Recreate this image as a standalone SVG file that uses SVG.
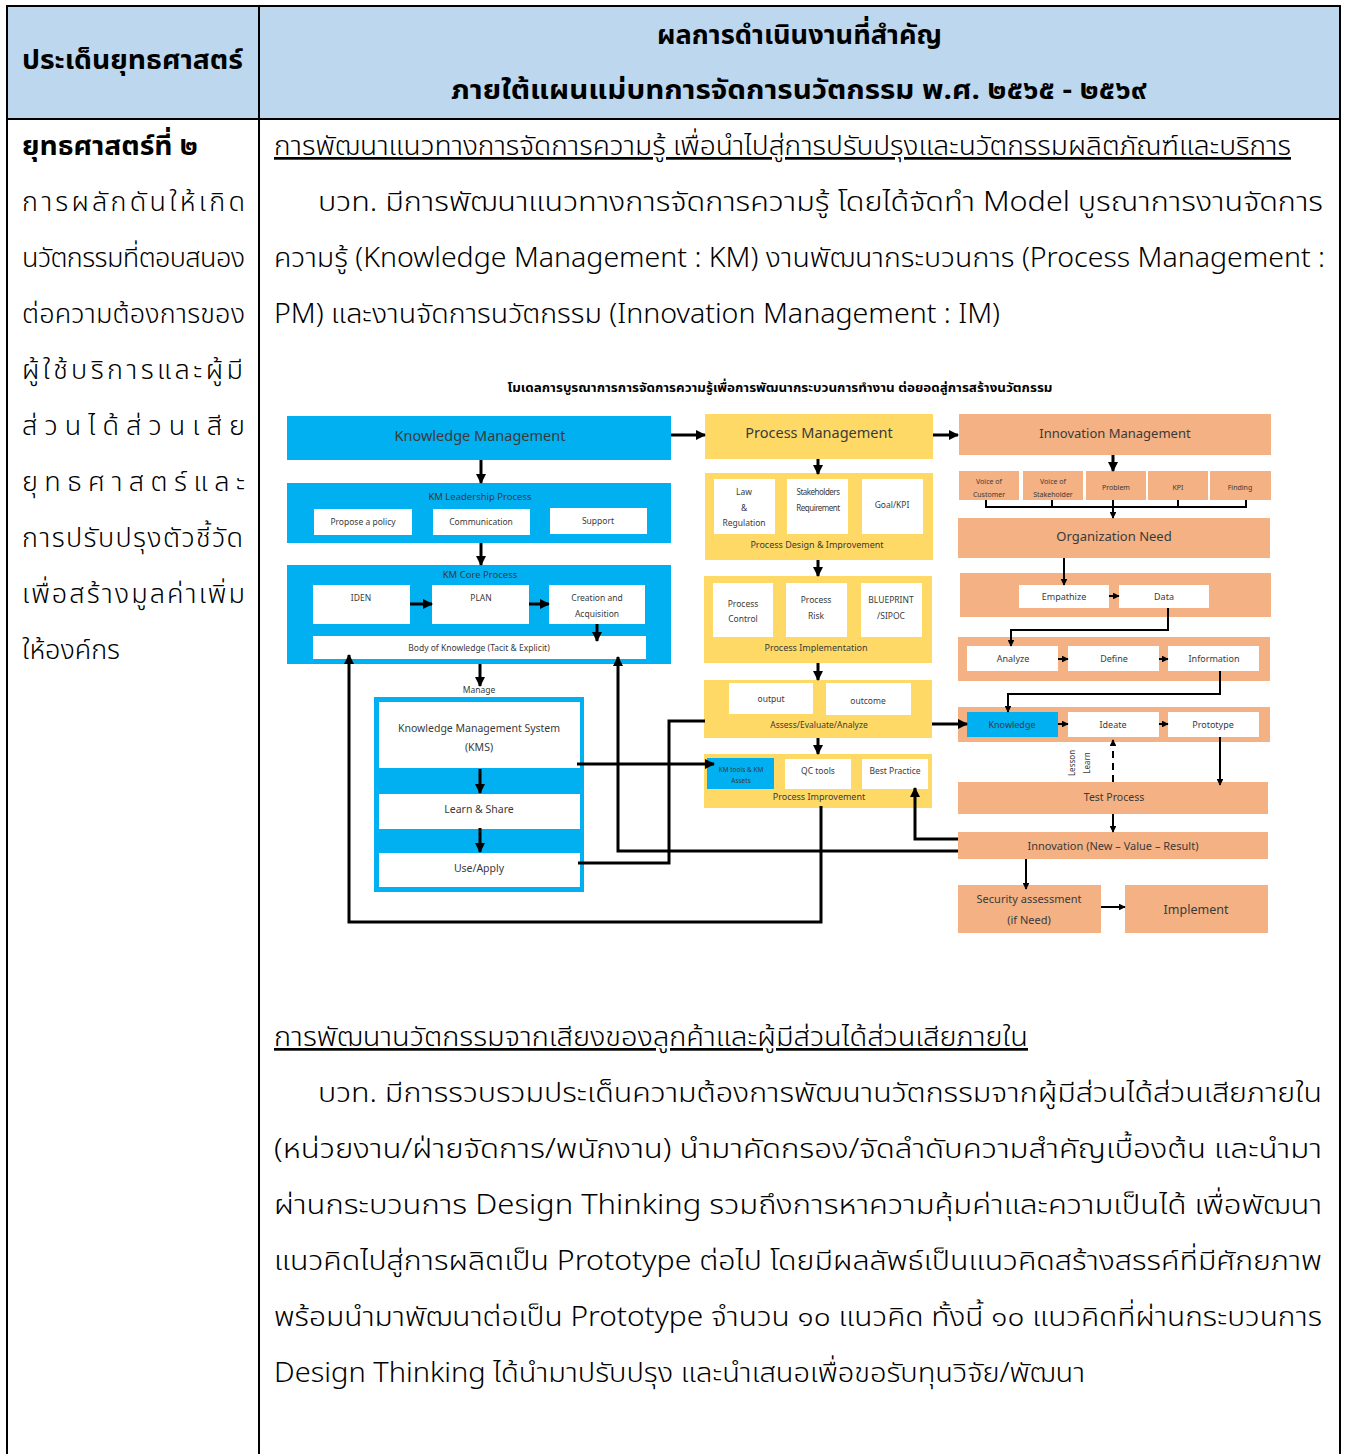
<svg xmlns="http://www.w3.org/2000/svg" width="1346" height="1454" viewBox="0 0 1346 1454">
  <style>
    .th { font-family: "Noto Sans Thai", "Noto Sans", "Liberation Sans", sans-serif; fill: #000; }
    .hdr { font-size: 27px; font-weight: bold; }
    .body { font-size: 27px; font-weight: 300; }
    .bold { font-weight: bold; }
    .u { text-decoration: underline; }
    .lbl { font-family: "Noto Sans", "Open Sans", sans-serif; fill: #3a3a3a; text-anchor: middle; }
    .km { fill: #00B0F0; }
    .pm { fill: #FFD966; }
    .im { fill: #F4B183; }
    .wb { fill: #FFFFFF; }
    .ln { fill: none; stroke: #000; stroke-width: 3; }
    .ls { fill: none; stroke: #000; stroke-width: 2; }
    .arr { marker-end: url(#ah); }
  </style>
  <defs>
    <marker id="ah" viewBox="0 0 10 10" refX="9" refY="5" markerWidth="3.4" markerHeight="3.4" orient="auto">
      <path d="M0,0 L10,5 L0,10 Z" fill="#000"/>
    </marker>
  </defs>

  <!-- table frame -->
  <g id="table">
    <rect x="7" y="7" width="1333" height="111" fill="#BDD7EE"/>
    <path d="M7,6 V1454 M1340,6 V1454 M6,6 H1341 M6,119 H1341 M259,6 V1454" fill="none" stroke="#000" stroke-width="2"/>
    <text class="th hdr" x="22" y="69" textLength="221" lengthAdjust="spacingAndGlyphs">ประเด็นยุทธศาสตร์</text>
    <text class="th hdr" x="657" y="44" textLength="285" lengthAdjust="spacingAndGlyphs">ผลการดำเนินงานที่สำคัญ</text>
    <text class="th hdr" x="451" y="99" textLength="696" lengthAdjust="spacingAndGlyphs">ภายใต้แผนแม่บทการจัดการนวัตกรรม พ.ศ. ๒๕๖๕ - ๒๕๖๙</text>
  </g>

  <!-- left column: strategy -->
  <g id="strategy">
    <text class="th body bold" x="22" y="155" textLength="176" lengthAdjust="spacingAndGlyphs">ยุทธศาสตร์ที่ ๒</text>
    <text class="th body" x="22" y="211" textLength="223" lengthAdjust="spacing">การผลักดันให้เกิด</text>
    <text class="th body" x="22" y="267" textLength="223" lengthAdjust="spacing">นวัตกรรมที่ตอบสนอง</text>
    <text class="th body" x="22" y="323" textLength="223" lengthAdjust="spacing">ต่อความต้องการของ</text>
    <text class="th body" x="22" y="379" textLength="221" lengthAdjust="spacing">ผู้ใช้บริการและผู้มี</text>
    <text class="th body" x="22" y="435" textLength="223" lengthAdjust="spacing">ส่วนได้ส่วนเสีย</text>
    <text class="th body" x="22" y="491" textLength="223" lengthAdjust="spacing">ยุทธศาสตร์และ</text>
    <text class="th body" x="22" y="547" textLength="221" lengthAdjust="spacing">การปรับปรุงตัวชี้วัด</text>
    <text class="th body" x="22" y="603" textLength="223" lengthAdjust="spacing">เพื่อสร้างมูลค่าเพิ่ม</text>
    <text class="th body" x="22" y="659" textLength="98" lengthAdjust="spacingAndGlyphs">ให้องค์กร</text>
  </g>

  <!-- right column: first section text -->
  <g id="section1">
    <text class="th body u" x="274" y="155" textLength="1017" lengthAdjust="spacingAndGlyphs">การพัฒนาแนวทางการจัดการความรู้ เพื่อนำไปสู่การปรับปรุงและนวัตกรรมผลิตภัณฑ์และบริการ</text>
    <text class="th body" x="318" y="211" textLength="1005" lengthAdjust="spacingAndGlyphs">บวท. มีการพัฒนาแนวทางการจัดการความรู้ โดยได้จัดทำ Model บูรณาการงานจัดการ</text>
    <text class="th body" x="274" y="267" textLength="1051" lengthAdjust="spacingAndGlyphs">ความรู้ (Knowledge Management : KM) งานพัฒนากระบวนการ (Process Management :</text>
    <text class="th body" x="274" y="323" textLength="726" lengthAdjust="spacingAndGlyphs">PM) และงานจัดการนวัตกรรม (Innovation Management : IM)</text>
  </g>

  <text class="th bold" x="780" y="392" font-size="13" text-anchor="middle" textLength="545" lengthAdjust="spacingAndGlyphs">โมเดลการบูรณาการการจัดการความรู้เพื่อการพัฒนากระบวนการทำงาน ต่อยอดสู่การสร้างนวัตกรรม</text>

  <!-- Knowledge Management column -->
  <g id="km">
    <rect class="km" x="287" y="416" width="384" height="44"/>
    <text class="lbl" x="480" y="441" font-size="14.5">Knowledge Management</text>
  </g>
  <g id="km-leadership">
    <rect class="km" x="287" y="483" width="384" height="60"/>
    <text class="lbl" x="480" y="500" font-size="9.5">KM Leadership Process</text>
    <rect class="wb" x="314" y="509" width="98" height="26"/>
    <text class="lbl" x="363" y="525" font-size="8.5">Propose a policy</text>
    <rect class="wb" x="433" y="509" width="97" height="26"/>
    <text class="lbl" x="481" y="525" font-size="8.5">Communication</text>
    <rect class="wb" x="550" y="508" width="97" height="26"/>
    <text class="lbl" x="598" y="524" font-size="8.5">Support</text>
  </g>
  <g id="km-core">
    <rect class="km" x="287" y="565" width="384" height="99"/>
    <text class="lbl" x="480" y="578" font-size="9.5">KM Core Process</text>
    <rect class="wb" x="313" y="585" width="97" height="39"/>
    <text class="lbl" x="361" y="601" font-size="8.5">IDEN</text>
    <rect class="wb" x="432" y="585" width="97" height="39"/>
    <text class="lbl" x="481" y="601" font-size="8.5">PLAN</text>
    <rect class="wb" x="549" y="585" width="96" height="39"/>
    <text class="lbl" x="597" y="601" font-size="8.5">Creation and</text>
    <text class="lbl" x="597" y="617" font-size="8.5">Acquisition</text>
    <rect class="wb" x="313" y="636" width="333" height="23"/>
    <text class="lbl" x="479" y="651" font-size="8.5">Body of Knowledge (Tacit &amp; Explicit)</text>
  </g>
  <text class="lbl" x="479" y="693" font-size="8.5">Manage</text>
  <g id="kms">
    <rect class="km" x="374" y="697" width="210" height="195"/>
    <rect class="wb" x="379" y="702" width="201" height="66"/>
    <text class="lbl" x="479" y="732" font-size="10.5">Knowledge Management System</text>
    <text class="lbl" x="479" y="751" font-size="10.5">(KMS)</text>
    <rect class="wb" x="379" y="794" width="201" height="35"/>
    <text class="lbl" x="479" y="813" font-size="10.5">Learn &amp; Share</text>
    <rect class="wb" x="379" y="853" width="201" height="34"/>
    <text class="lbl" x="479" y="872" font-size="10.5">Use/Apply</text>
  </g>

  <!-- Process Management column -->
  <g id="pm">
    <rect class="pm" x="705" y="414" width="228" height="45"/>
    <text class="lbl" x="819" y="438" font-size="14.5">Process Management</text>
  </g>
  <g id="pm-design">
    <rect class="pm" x="705" y="473" width="228" height="87"/>
    <rect class="wb" x="714" y="479" width="61" height="55"/>
    <text class="lbl" x="744" y="495" font-size="8.5">Law</text>
    <text class="lbl" x="744" y="511" font-size="8.5">&amp;</text>
    <text class="lbl" x="744" y="526" font-size="8.5">Regulation</text>
    <rect class="wb" x="787" y="479" width="61" height="55"/>
    <text class="lbl" x="818" y="495" font-size="8" letter-spacing="-0.5">Stakeholders</text>
    <text class="lbl" x="818" y="511" font-size="8" letter-spacing="-0.5">Requirement</text>
    <rect class="wb" x="862" y="479" width="61" height="55"/>
    <text class="lbl" x="892" y="508" font-size="8.5">Goal/KPI</text>
    <text class="lbl" x="817" y="548" font-size="9">Process Design &amp; Improvement</text>
  </g>
  <g id="pm-implementation">
    <rect class="pm" x="704" y="576" width="228" height="87"/>
    <rect class="wb" x="713" y="583" width="60" height="54"/>
    <text class="lbl" x="743" y="607" font-size="8.5">Process</text>
    <text class="lbl" x="743" y="622" font-size="8.5">Control</text>
    <rect class="wb" x="786" y="583" width="61" height="54"/>
    <text class="lbl" x="816" y="603" font-size="8.5">Process</text>
    <text class="lbl" x="816" y="619" font-size="8.5">Risk</text>
    <rect class="wb" x="861" y="583" width="61" height="54"/>
    <text class="lbl" x="891" y="603" font-size="8.5">BLUEPRINT</text>
    <text class="lbl" x="891" y="619" font-size="8.5">/SIPOC</text>
    <text class="lbl" x="816" y="651" font-size="9">Process Implementation</text>
  </g>
  <g id="pm-assess">
    <rect class="pm" x="704" y="680" width="228" height="58"/>
    <rect class="wb" x="729" y="683" width="84" height="31"/>
    <text class="lbl" x="771" y="702" font-size="8.5">output</text>
    <rect class="wb" x="826" y="683" width="85" height="32"/>
    <text class="lbl" x="868" y="704" font-size="8.5">outcome</text>
    <text class="lbl" x="819" y="728" font-size="8.5">Assess/Evaluate/Analyze</text>
  </g>
  <g id="pm-improvement">
    <rect class="pm" x="704" y="754" width="228" height="54"/>
    <rect class="km" x="707" y="758" width="67" height="31"/>
    <text class="lbl" x="741" y="772" font-size="6.5">KM tools &amp; KM</text>
    <text class="lbl" x="741" y="783" font-size="6.5">Assets</text>
    <rect class="wb" x="785" y="759" width="66" height="30"/>
    <text class="lbl" x="818" y="774" font-size="8.5">QC tools</text>
    <rect class="wb" x="862" y="759" width="66" height="30"/>
    <text class="lbl" x="895" y="774" font-size="8.5">Best Practice</text>
    <text class="lbl" x="819" y="800" font-size="9">Process Improvement</text>
  </g>

  <!-- Innovation Management column -->
  <g id="im">
    <rect class="im" x="959" y="414" width="312" height="41"/>
    <text class="lbl" x="1115" y="438" font-size="13">Innovation Management</text>
  </g>
  <g id="im-sources">
    <rect class="im" x="959" y="471" width="60" height="29"/>
    <text class="lbl" x="989" y="484" font-size="7">Voice of</text>
    <text class="lbl" x="989" y="497" font-size="7">Customer</text>
    <rect class="im" x="1023" y="471" width="60" height="29"/>
    <text class="lbl" x="1053" y="484" font-size="7">Voice of</text>
    <text class="lbl" x="1053" y="497" font-size="7">Stakeholder</text>
    <rect class="im" x="1086" y="471" width="60" height="29"/>
    <text class="lbl" x="1116" y="490" font-size="7">Problem</text>
    <rect class="im" x="1148" y="471" width="60" height="29"/>
    <text class="lbl" x="1178" y="490" font-size="7">KPI</text>
    <rect class="im" x="1210" y="471" width="61" height="29"/>
    <text class="lbl" x="1240" y="490" font-size="7">Finding</text>
  </g>
  <g id="im-need">
    <rect class="im" x="958" y="518" width="312" height="40"/>
    <text class="lbl" x="1114" y="541" font-size="13">Organization Need</text>
  </g>
  <g id="im-empathize">
    <rect class="im" x="960" y="573" width="311" height="44"/>
    <rect class="wb" x="1019" y="585" width="90" height="23"/>
    <text class="lbl" x="1064" y="600" font-size="9">Empathize</text>
    <rect class="wb" x="1119" y="585" width="90" height="23"/>
    <text class="lbl" x="1164" y="600" font-size="9">Data</text>
  </g>
  <g id="im-define">
    <rect class="im" x="958" y="637" width="312" height="44"/>
    <rect class="wb" x="967" y="646" width="91" height="25"/>
    <text class="lbl" x="1013" y="662" font-size="9">Analyze</text>
    <rect class="wb" x="1068" y="646" width="91" height="25"/>
    <text class="lbl" x="1114" y="662" font-size="9">Define</text>
    <rect class="wb" x="1168" y="646" width="91" height="25"/>
    <text class="lbl" x="1214" y="662" font-size="9">Information</text>
  </g>
  <g id="im-ideate">
    <rect class="im" x="958" y="707" width="312" height="35"/>
    <rect class="km" x="967" y="712" width="91" height="25"/>
    <text class="lbl" x="1012" y="728" font-size="9">Knowledge</text>
    <rect class="wb" x="1068" y="712" width="91" height="25"/>
    <text class="lbl" x="1113" y="728" font-size="9">Ideate</text>
    <rect class="wb" x="1168" y="712" width="91" height="25"/>
    <text class="lbl" x="1213" y="728" font-size="9">Prototype</text>
  </g>
  <text class="lbl" transform="translate(1075,763) rotate(-90)" font-size="8">Lesson</text>
  <text class="lbl" transform="translate(1090,763) rotate(-90)" font-size="8">Learn</text>
  <g id="im-test">
    <rect class="im" x="958" y="782" width="310" height="32"/>
    <text class="lbl" x="1114" y="801" font-size="10.5">Test Process</text>
  </g>
  <g id="im-innovation">
    <rect class="im" x="958" y="832" width="310" height="27"/>
    <text class="lbl" x="1113" y="850" font-size="11">Innovation (New – Value – Result)</text>
  </g>
  <g id="im-security">
    <rect class="im" x="958" y="885" width="143" height="48"/>
    <text class="lbl" x="1029" y="903" font-size="11">Security assessment</text>
    <text class="lbl" x="1029" y="924" font-size="11">(if Need)</text>
  </g>
  <g id="im-implement">
    <rect class="im" x="1125" y="885" width="143" height="48"/>
    <text class="lbl" x="1196" y="914" font-size="12.5">Implement</text>
  </g>

  <!-- connectors -->
  <g id="connectors">
    <path class="ln arr" d="M671,435 H705"/>
    <path class="ln arr" d="M933,435 H958"/>
    <path class="ln arr" d="M481,460 V483"/>
    <path class="ln arr" d="M481,543 V565"/>
    <path class="ln arr" d="M410,604 H432"/>
    <path class="ln arr" d="M529,604 H549"/>
    <path class="ln arr" d="M597,624 V641"/>
    <path class="ln arr" d="M480,664 V686"/>
    <path class="ln arr" d="M480,769 V793"/>
    <path class="ln arr" d="M480,828 V852"/>
    <path class="ln arr" d="M821,806 V922 H349 V655"/>
    <path class="ln arr" d="M958,851 H618 V657"/>
    <path class="ln" d="M705,721 H669 V863 H578"/>
    <path class="ln arr" d="M577,764 H714"/>
    <path class="ln arr" d="M958,839 H915 V788"/>
    <path class="ln arr" d="M932,724 H967"/>

    <path class="ln arr" d="M818,459 V474"/>
    <path class="ln arr" d="M818,560 V576"/>
    <path class="ln arr" d="M818,663 V680"/>
    <path class="ln arr" d="M818,738 V754"/>

    <path class="ln arr" d="M1113,455 V471"/>
    <path class="ls" d="M986,500 V507 H1246 V500 M1052,500 V507 M1113,500 V507 M1178,500 V507"/>
    <path class="ls arr" d="M1113,506 V518"/>
    <path class="ls arr" d="M1064,558 V585"/>
    <path class="ls arr" d="M1109,596 H1119"/>
    <path class="ls arr" d="M1168,608 V630 H1011 V646"/>
    <path class="ls arr" d="M1058,659 H1068"/>
    <path class="ls arr" d="M1159,659 H1168"/>
    <path class="ls arr" d="M1220,671 V694 H1008 V712"/>
    <path class="ls arr" d="M1058,724 H1068"/>
    <path class="ls arr" d="M1159,724 H1168"/>
    <path class="ls arr" d="M1220,737 V785"/>
    <path class="ls arr" d="M1113,782 V740" stroke-dasharray="7,5"/>
    <path class="ls arr" d="M1113,814 V832"/>
    <path class="ls arr" d="M1026,859 V889"/>
    <path class="ls arr" d="M1101,907 H1125"/>
  </g>

  <!-- right column: second section text -->
  <g id="section2">
    <text class="th body u" x="274" y="1046" textLength="754" lengthAdjust="spacingAndGlyphs">การพัฒนานวัตกรรมจากเสียงของลูกค้าและผู้มีส่วนได้ส่วนเสียภายใน</text>
    <text class="th body" x="318" y="1102" textLength="1004" lengthAdjust="spacingAndGlyphs">บวท. มีการรวบรวมประเด็นความต้องการพัฒนานวัตกรรมจากผู้มีส่วนได้ส่วนเสียภายใน</text>
    <text class="th body" x="274" y="1158" textLength="1048" lengthAdjust="spacingAndGlyphs">(หน่วยงาน/ฝ่ายจัดการ/พนักงาน) นำมาคัดกรอง/จัดลำดับความสำคัญเบื้องต้น และนำมา</text>
    <text class="th body" x="274" y="1214" textLength="1048" lengthAdjust="spacingAndGlyphs">ผ่านกระบวนการ Design Thinking รวมถึงการหาความคุ้มค่าและความเป็นได้ เพื่อพัฒนา</text>
    <text class="th body" x="274" y="1270" textLength="1048" lengthAdjust="spacingAndGlyphs">แนวคิดไปสู่การผลิตเป็น Prototype ต่อไป โดยมีผลลัพธ์เป็นแนวคิดสร้างสรรค์ที่มีศักยภาพ</text>
    <text class="th body" x="274" y="1326" textLength="1048" lengthAdjust="spacingAndGlyphs">พร้อมนำมาพัฒนาต่อเป็น Prototype จำนวน ๑๐ แนวคิด ทั้งนี้ ๑๐ แนวคิดที่ผ่านกระบวนการ</text>
    <text class="th body" x="274" y="1382" textLength="811" lengthAdjust="spacingAndGlyphs">Design Thinking ได้นำมาปรับปรุง และนำเสนอเพื่อขอรับทุนวิจัย/พัฒนา</text>
  </g>
</svg>
